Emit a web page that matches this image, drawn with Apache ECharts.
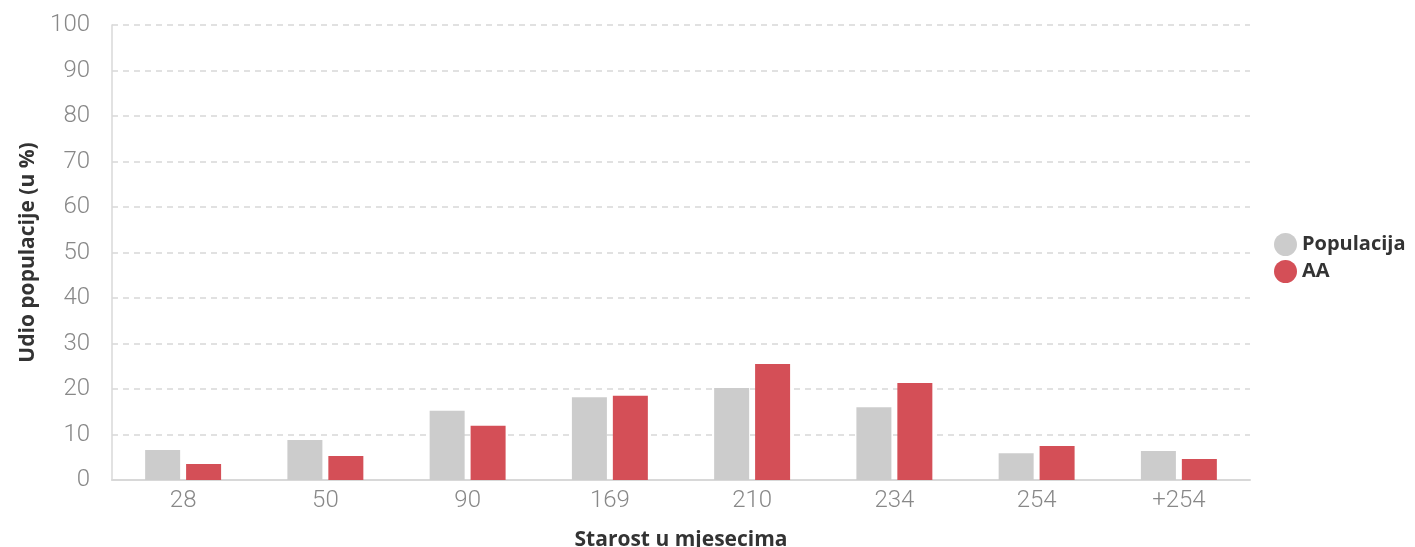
<!DOCTYPE html>
<html><head><meta charset="utf-8">
<script src="https://cdn.jsdelivr.net/npm/echarts@6/dist/echarts.min.js"></script>
<style>html,body{margin:0;padding:0;background:#fff}#c{width:1415px;height:547px}</style>
</head><body><div id="c"></div>
<script>
var categories = ['28','50','90','169','210','234','254','+254'];
var populacija = [6.6, 8.8, 15.2, 18.2, 20.2, 16.0, 5.9, 6.4];
var aa = [3.5, 5.3, 11.9, 18.5, 25.5, 21.3, 7.5, 4.6];
var yTicks = {min: 0, max: 100, interval: 10};

var chart = echarts.init(document.getElementById('c'));
chart.setOption({
  animation: false,
  grid: {left: 112, right: 165, top: 25, bottom: 67, containLabel: false, outerBoundsMode: 'none'},
  legend: {
    orient: 'vertical', left: 1269, top: 228, icon: 'circle',
    itemWidth: 23, itemHeight: 23, itemGap: 4,
    textStyle: {fontFamily: 'Open Sans', fontWeight: 'bold', fontSize: 20, color: '#333'},
    data: ['Populacija', 'AA']
  },
  xAxis: {
    type: 'category', data: categories,
    name: 'Starost u mjesecima', nameLocation: 'middle', nameGap: 50,
    nameTextStyle: {fontFamily: 'Open Sans', fontWeight: 'bold', fontSize: 21, color: '#333'},
    axisLine: {lineStyle: {color: '#d8d8d8', width: 2}},
    axisTick: {show: false},
    axisLabel: {fontFamily: 'Roboto', fontWeight: 300, fontSize: 24, color: '#888', margin: 9}
  },
  yAxis: {
    type: 'value', min: yTicks.min, max: yTicks.max, interval: yTicks.interval,
    name: 'Udio populacije (u %)', nameLocation: 'middle', nameGap: 73, nameRotate: 90,
    nameTextStyle: {fontFamily: 'Open Sans', fontWeight: 'bold', fontSize: 21, color: '#333'},
    axisLine: {show: true, lineStyle: {color: '#d8d8d8', width: 1.5}},
    axisTick: {show: false},
    axisLabel: {fontFamily: 'Roboto', fontWeight: 300, fontSize: 24, color: '#888', margin: 22},
    splitLine: {lineStyle: {color: '#d8d8d8', type: [6, 5], width: 1.5}}
  },
  series: [
    {name: 'Populacija', type: 'bar', data: populacija, barWidth: 35, barGap: '17%', itemStyle: {color: '#cccccc'}},
    {name: 'AA', type: 'bar', data: aa, barWidth: 35, itemStyle: {color: '#d44f57'}}
  ]
});
</script></body></html>
